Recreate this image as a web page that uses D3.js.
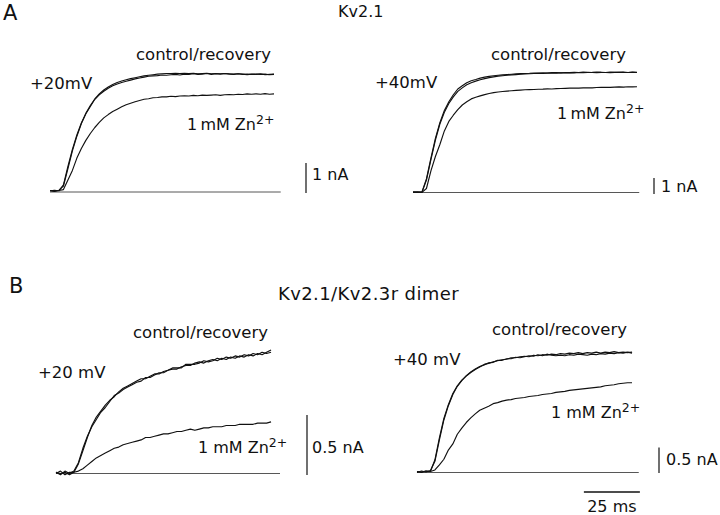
<!DOCTYPE html>
<html><head><meta charset="utf-8">
<script src="https://cdn.jsdelivr.net/npm/d3@7"></script>
<style>
body{margin:0;background:#fff}
svg{display:block}
text{font-family:"DejaVu Sans",Verdana,sans-serif;fill:#111}
</style>
</head><body>
<svg id="c" width="720" height="515"></svg>
<script>
// ---- data: time grid (ms) and currents (nA) ----
const timeMs = [0,2,4,6,8,10,12,14,16,18,20,22,24,26,28,30,32,34,36,38,40,42,44,46,48,50,52,54,56,58,60,62,64,66,68,70,72,74,76,78,80,82,84,86,88,90,92,94,96,98,100];

// Panel A, Kv2.1, +20 mV
const aLeftControl = [0.05,0.03,0.06,0.20,0.78,1.37,1.86,2.28,2.61,2.85,3.09,3.24,3.36,3.46,3.54,3.60,3.65,3.69,3.73,3.77,3.80,3.83,3.86,3.87,3.88,3.90,3.89,3.91,3.92,3.90,3.93,3.92,3.94,3.92,3.93,3.95,3.92,3.94,3.93,3.95,3.93,3.92,3.94,3.93,3.91,3.93,3.92,3.94,3.91,3.92,3.93];
const aLeftRecovery = [0.04,0.06,0.04,0.24,0.85,1.42,1.90,2.30,2.62,2.88,3.10,3.27,3.40,3.50,3.58,3.65,3.70,3.74,3.78,3.81,3.84,3.87,3.89,3.91,3.93,3.94,3.95,3.95,3.96,3.95,3.96,3.95,3.96,3.94,3.95,3.96,3.94,3.95,3.94,3.95,3.94,3.93,3.94,3.92,3.93,3.92,3.93,3.92,3.93,3.91,3.92];
const aLeftZn = [0.04,0.02,0.05,0.08,0.40,0.72,1.13,1.45,1.72,1.95,2.15,2.32,2.47,2.58,2.68,2.76,2.84,2.91,2.96,3.01,3.05,3.09,3.11,3.14,3.15,3.17,3.17,3.19,3.18,3.20,3.21,3.20,3.22,3.21,3.23,3.22,3.23,3.24,3.22,3.24,3.25,3.24,3.26,3.25,3.27,3.26,3.27,3.26,3.28,3.26,3.27];

// Panel A, Kv2.1, +40 mV
const aRightControl = [0.03,0.00,0.04,0.85,2.15,3.38,4.37,5.13,5.67,6.11,6.47,6.67,6.86,6.98,7.06,7.15,7.21,7.26,7.30,7.33,7.35,7.37,7.39,7.41,7.43,7.44,7.45,7.47,7.46,7.48,7.47,7.49,7.50,7.48,7.50,7.49,7.51,7.50,7.52,7.50,7.51,7.53,7.51,7.50,7.52,7.51,7.53,7.51,7.50,7.52,7.51];
const aRightRecovery = [0.02,0.03,0.01,0.78,2.05,3.28,4.28,5.02,5.56,5.98,6.32,6.54,6.73,6.86,6.96,7.05,7.12,7.18,7.23,7.27,7.30,7.33,7.35,7.37,7.39,7.41,7.42,7.44,7.45,7.44,7.46,7.47,7.46,7.48,7.47,7.49,7.48,7.50,7.49,7.51,7.50,7.49,7.51,7.50,7.49,7.51,7.50,7.52,7.50,7.51,7.50];
const aRightZn = [0.02,0.04,0.01,0.25,1.35,2.25,3.00,3.85,4.44,4.83,5.18,5.47,5.67,5.85,5.95,6.04,6.12,6.19,6.24,6.28,6.31,6.34,6.36,6.38,6.40,6.42,6.43,6.44,6.45,6.46,6.48,6.47,6.49,6.50,6.51,6.52,6.53,6.52,6.54,6.55,6.54,6.56,6.57,6.58,6.57,6.59,6.60,6.59,6.61,6.60,6.61];

// Panel B, Kv2.1/Kv2.3r dimer, +20 mV
const bLeftControl = [0.01,-0.01,0.02,0.00,0.02,0.09,0.21,0.31,0.39,0.45,0.51,0.55,0.60,0.65,0.67,0.70,0.72,0.74,0.76,0.77,0.80,0.80,0.82,0.84,0.84,0.86,0.87,0.87,0.89,0.90,0.90,0.92,0.93,0.92,0.94,0.95,0.94,0.96,0.95,0.97,0.96,0.98,0.97,0.99,0.98,1.00,0.99,1.01,1.03];
const bLeftRecovery = [0.00,0.02,-0.01,0.01,0.01,0.08,0.19,0.30,0.40,0.47,0.52,0.57,0.61,0.64,0.68,0.71,0.73,0.75,0.77,0.79,0.79,0.81,0.83,0.83,0.85,0.86,0.88,0.88,0.88,0.91,0.91,0.91,0.92,0.94,0.93,0.94,0.96,0.95,0.97,0.96,0.98,0.97,0.99,0.98,1.00,0.99,1.01,1.00,1.01];
const bLeftZn = [0.01,0.00,0.01,-0.01,0.01,0.02,0.04,0.07,0.10,0.13,0.15,0.17,0.19,0.21,0.22,0.24,0.25,0.26,0.27,0.28,0.30,0.30,0.31,0.32,0.33,0.33,0.34,0.35,0.35,0.36,0.37,0.36,0.37,0.38,0.38,0.39,0.39,0.39,0.40,0.40,0.40,0.41,0.41,0.41,0.41,0.42,0.42,0.42,0.43];

// Panel B, Kv2.1/Kv2.3r dimer, +40 mV
const bRightControl = [0.02,0.00,0.03,0.02,0.25,0.68,1.06,1.33,1.55,1.70,1.81,1.89,1.96,2.02,2.07,2.12,2.14,2.17,2.19,2.21,2.22,2.25,2.25,2.27,2.28,2.27,2.30,2.29,2.31,2.30,2.32,2.31,2.33,2.32,2.34,2.33,2.35,2.33,2.35,2.34,2.36,2.34,2.36,2.35,2.37,2.35,2.36,2.35,2.36];
const bRightRecovery = [0.00,0.03,0.01,0.04,0.22,0.64,1.03,1.31,1.53,1.69,1.80,1.90,1.97,2.03,2.08,2.11,2.15,2.16,2.20,2.20,2.23,2.23,2.26,2.25,2.27,2.29,2.28,2.31,2.29,2.32,2.30,2.29,2.30,2.29,2.31,2.30,2.32,2.31,2.30,2.32,2.31,2.33,2.32,2.34,2.33,2.35,2.34,2.36,2.34];
const bRightZn = [0.02,0.01,0.03,0.02,0.05,0.15,0.26,0.44,0.56,0.75,0.87,0.98,1.07,1.15,1.22,1.26,1.30,1.35,1.37,1.40,1.42,1.43,1.45,1.46,1.47,1.49,1.50,1.51,1.53,1.54,1.55,1.57,1.58,1.59,1.61,1.62,1.63,1.64,1.65,1.66,1.67,1.68,1.70,1.71,1.72,1.74,1.75,1.76,1.76];

// ---- text & scale bars ----
const panelLetters = ["A", "B"];
const titles = ["Kv2.1", "Kv2.1/Kv2.3r dimer"];
const voltageLabels = ["+20mV", "+40mV", "+20 mV", "+40 mV"];
const controlLabel = "control/recovery";
const znLabels = ["1\u2009mM Zn", "1\u2009mM Zn", "1 mM Zn", "1 mM Zn"];
const currentBarNA = [1, 1, 0.5, 0.5];
const currentBarLabels = ["1 nA", "1 nA", "0.5 nA", "0.5 nA"];
const timeBarMs = 25;
const timeBarLabel = "25 ms";

// ---- drawing ----
const svg = d3.select("#c");
const PX_PER_MS = 2.24;

const panels = [
  {ctrl:aLeftControl, rec:aLeftRecovery, zn:aLeftZn, x0:50, y0:192, ppn:30, baseEnd:103,
   bar:{x:306, bottom:193}, volt:[30,89], ctl:[136,60], znL:[187,130], barL:[312,180]},
  {ctrl:aRightControl, rec:aRightRecovery, zn:aRightZn, x0:413, y0:192.5, ppn:16, baseEnd:101,
   bar:{x:654, bottom:194}, volt:[375,88], ctl:[491,60], znL:[557,119], barL:[661,192]},
  {ctrl:bLeftControl, rec:bLeftRecovery, zn:bLeftZn, x0:56, y0:473.5, ppn:120, baseEnd:100,
   bar:{x:307, bottom:475}, volt:[38,378], ctl:[133,338], znL:[198,453], barL:[312,453]},
  {ctrl:bRightControl, rec:bRightRecovery, zn:bRightZn, x0:417, y0:472.5, ppn:51, baseEnd:99,
   bar:{x:659, bottom:473}, volt:[393,365], ctl:[492,335], znL:[551,418], barL:[666,465]}
];

panels.forEach((p, k) => {
  const x = d3.scaleLinear().domain([0, 100]).range([p.x0, p.x0 + 100 * PX_PER_MS]);
  const y = d3.scaleLinear().domain([0, 1]).range([p.y0, p.y0 - p.ppn]);
  p.x = x; p.y = y;
  const g = svg.append("g");

  // zero-current baseline
  g.append("line")
    .attr("x1", x(0)).attr("x2", x(p.baseEnd))
    .attr("y1", y(0)).attr("y2", y(0))
    .attr("stroke", "#444").attr("stroke-width", 0.9);

  const line = d3.line().x((d, i) => x(timeMs[i])).y(d => y(d));
  [p.zn, p.rec, p.ctrl].forEach(arr => {
    g.append("path").attr("d", line(arr))
      .attr("fill", "none").attr("stroke", "#111")
      .attr("stroke-width", 1.15).attr("stroke-linejoin", "round");
  });

  // current scale bar
  const len = y(0) - y(currentBarNA[k]);
  g.append("line")
    .attr("x1", p.bar.x).attr("x2", p.bar.x)
    .attr("y1", p.bar.bottom).attr("y2", p.bar.bottom - len)
    .attr("stroke", "#111").attr("stroke-width", 1.2);
  g.append("text").attr("x", p.barL[0]).attr("y", p.barL[1])
    .attr("font-size", 16).text(currentBarLabels[k]);

  // labels
  g.append("text").attr("x", p.volt[0]).attr("y", p.volt[1])
    .attr("font-size", 16.5).text(voltageLabels[k]);
  g.append("text").attr("x", p.ctl[0]).attr("y", p.ctl[1])
    .attr("font-size", 16.5).text(controlLabel);
  const zt = g.append("text").attr("x", p.znL[0]).attr("y", p.znL[1]).attr("font-size", 16);
  zt.append("tspan").text(znLabels[k]);
  zt.append("tspan").attr("dy", -6).attr("font-size", 12.5).text("2+");
});

// time scale bar (in panel B right)
const pb = panels[3];
const tb0 = 74.5;
svg.append("line")
  .attr("x1", pb.x(tb0)).attr("x2", pb.x(tb0 + timeBarMs))
  .attr("y1", 492).attr("y2", 492)
  .attr("stroke", "#111").attr("stroke-width", 1.3);
svg.append("text").attr("x", (pb.x(tb0) + pb.x(tb0 + timeBarMs)) / 2).attr("y", 512)
  .attr("text-anchor", "middle").attr("font-size", 16).text(timeBarLabel);

// panel letters and titles
svg.append("text").attr("x", 3).attr("y", 20).attr("font-size", 21).text(panelLetters[0]);
svg.append("text").attr("x", 9).attr("y", 293).attr("font-size", 21).text(panelLetters[1]);
svg.append("text").attr("x", 338).attr("y", 17).attr("font-size", 16).text(titles[0]);
svg.append("text").attr("x", 278).attr("y", 300).attr("font-size", 18)
  .attr("letter-spacing", 0.4).text(titles[1]);
</script>
</body></html>
